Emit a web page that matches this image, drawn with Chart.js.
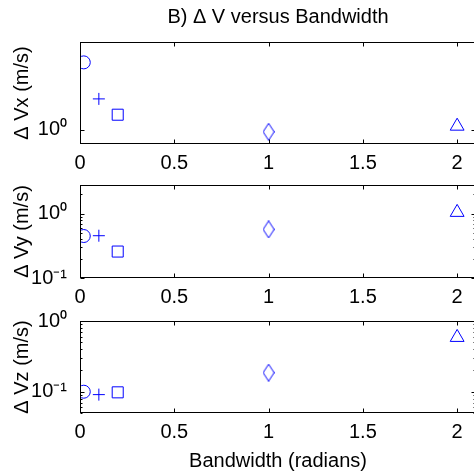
<!DOCTYPE html>
<html>
<head>
<meta charset="utf-8">
<script src="https://cdn.jsdelivr.net/npm/chart.js@4.4.1/dist/chart.umd.min.js"></script>
<style>
  html, body { margin: 0; padding: 0; background: #fff; overflow: hidden; width: 474px; height: 475px; }
  canvas { position: absolute; left: 0; }
</style>
</head>
<body>
<canvas id="vx" width="476" height="176" style="top:0px"></canvas>
<canvas id="vy" width="476" height="150" style="top:160px"></canvas>
<canvas id="vz" width="476" height="179" style="top:296px"></canvas>
<script>
// bandwidth (radians) for each of the five runs
const bandwidth = [0.02, 0.1, 0.2, 1, 2];
const dVx = [2.9, 1.63, 1.27, 0.97, 1.06];
const dVy = [0.45, 0.455, 0.258, 0.57, 1.05];
const dVz = [0.1, 0.091, 0.098, 0.186, 0.586];

const xTicks = [0, 0.5, 1, 1.5, 2];
const yLabels = ["\u0394 Vx (m/s)", "\u0394 Vy (m/s)", "\u0394 Vz (m/s)"];

const blue = "#0000ff";
const font = "'Liberation Sans', Arial, Helvetica, sans-serif";

Chart.defaults.color = "#000";
Chart.defaults.font.family = font;
Chart.defaults.font.size = 20;

function diamondMarker(w, h) {
  const c = document.createElement("canvas");
  c.width = w;
  c.height = h;
  const g = c.getContext("2d");
  g.strokeStyle = blue;
  g.lineWidth = 1;
  g.beginPath();
  g.moveTo(w / 2, 0.5);
  g.lineTo(w - 0.5, h / 2);
  g.lineTo(w / 2, h - 0.5);
  g.lineTo(0.5, h / 2);
  g.closePath();
  g.stroke();
  return c;
}

const markerStyles = ["circle", "cross", "rect", diamondMarker(12, 18), "triangle"];
const markerRadius = [6.5, 6, 7.8, 9, 8];

const sup = { "-": "\u207B", 0: "\u2070", 1: "\u00B9", 2: "\u00B2", 3: "\u00B3" };
function powLabel(v) {
  const e = String(Math.round(Math.log10(v)));
  return "10" + e.split("").map((ch) => sup[ch]).join("");
}

function minorTicks(min, max) {
  const out = [];
  for (let d = -3; d <= 2; d++) {
    for (let m = 2; m <= 9; m++) {
      const v = m * Math.pow(10, d);
      if (v >= min && v <= max) out.push(v);
    }
  }
  return out;
}

// box round the plot area plus inward tick marks (matlab style)
const frame = {
  id: "frame",
  afterDraw(chart, args, opts) {
    const { ctx, chartArea: a, scales } = chart;
    const l = Math.round(a.left) + 0.5;
    const t = Math.round(a.top) + 0.5;
    const r = Math.round(a.right) - 0.5;
    const b = Math.round(a.bottom) - 0.5;
    ctx.save();
    ctx.strokeStyle = "#000";
    ctx.lineWidth = 1;
    ctx.strokeRect(l, t, r - l, b - t);
    ctx.beginPath();
    xTicks.forEach((v) => {
      const px = Math.round(scales.x.getPixelForValue(v)) + 0.5;
      ctx.moveTo(px, b);
      ctx.lineTo(px, b - 4);
      ctx.moveTo(px, t);
      ctx.lineTo(px, t + 4);
    });
    const ticks = opts.major.map((v) => [v, 4]).concat(opts.minor.map((v) => [v, 2]));
    ticks.forEach(([v, len]) => {
      const py = Math.round(scales.y.getPixelForValue(v)) + 0.5;
      ctx.moveTo(l, py);
      ctx.lineTo(l + len, py);
      ctx.moveTo(r, py);
      ctx.lineTo(r - len, py);
    });
    ctx.stroke();
    ctx.restore();
  },
};

function makePanel(id, values, yLabel, yMin, yMax, yMajor, yMinor, opts) {
  new Chart(document.getElementById(id), {
    type: "scatter",
    data: {
      datasets: [
        {
          data: bandwidth.map((x, i) => ({ x: x, y: values[i] })),
          pointStyle: markerStyles,
          pointRadius: markerRadius,
          borderColor: blue,
          backgroundColor: "rgba(0,0,0,0)",
          borderWidth: 1,
        },
      ],
    },
    plugins: [frame],
    options: {
      responsive: false,
      animation: false,
      devicePixelRatio: 1,
      layout: {
        autoPadding: false,
        padding: { top: opts.padTop, left: 0, right: 0, bottom: 0 },
      },
      plugins: {
        legend: { display: false },
        tooltip: { enabled: false },
        title: opts.title
          ? {
              display: true,
              fullSize: false,
              text: opts.title,
              color: "#000",
              font: { size: 20, weight: "normal" },
              padding: { top: 5, bottom: 13 },
            }
          : { display: false },
        frame: { major: yMajor, minor: yMinor },
      },
      scales: {
        x: {
          type: "linear",
          min: 0,
          max: 2.1,
          grid: { display: false, drawTicks: false },
          border: { display: false },
          afterBuildTicks: (s) => {
            s.ticks = xTicks.map((v) => ({ value: v }));
          },
          afterFit: (s) => {
            s.height = opts.xHeight;
            s.paddingLeft = 0;
            s.paddingRight = 0;
          },
          ticks: {
            padding: 7,
            maxRotation: 0,
            autoSkip: false,
            font: { size: 20 },
            callback: (v) => String(v),
          },
          title: opts.xTitle
            ? {
                display: true,
                text: opts.xTitle,
                font: { size: 20 },
                padding: { top: 3, bottom: 2 },
              }
            : { display: false },
        },
        y: {
          type: "logarithmic",
          min: yMin,
          max: yMax,
          grid: { display: false, drawTicks: false },
          border: { display: false },
          afterBuildTicks: (s) => {
            s.ticks = yMajor.map((v) => ({ value: v }));
          },
          afterFit: (s) => {
            s.width = 80;
          },
          ticks: { padding: 13, font: { size: 20 }, callback: (v) => powLabel(v) },
          title: {
            display: true,
            text: yLabel,
            font: { size: 20 },
            padding: { top: 10, bottom: 0 },
          },
        },
      },
    },
  });
}

makePanel("vx", dVx, yLabels[0], 0.8, 4, [1], [], {
  padTop: 0,
  xHeight: 32,
  title: "B) \u0394 V versus Bandwidth",
});
makePanel("vy", dVy, yLabels[1], 0.1, 2.8, [0.1, 1], minorTicks(0.1, 2.8), {
  padTop: 18,
  xHeight: 32,
});
makePanel("vz", dVz, yLabels[2], 0.05, 1, [0.1, 1], minorTicks(0.05, 1), {
  padTop: 16,
  xHeight: 62,
  xTitle: "Bandwidth (radians)",
});
</script>
</body>
</html>
